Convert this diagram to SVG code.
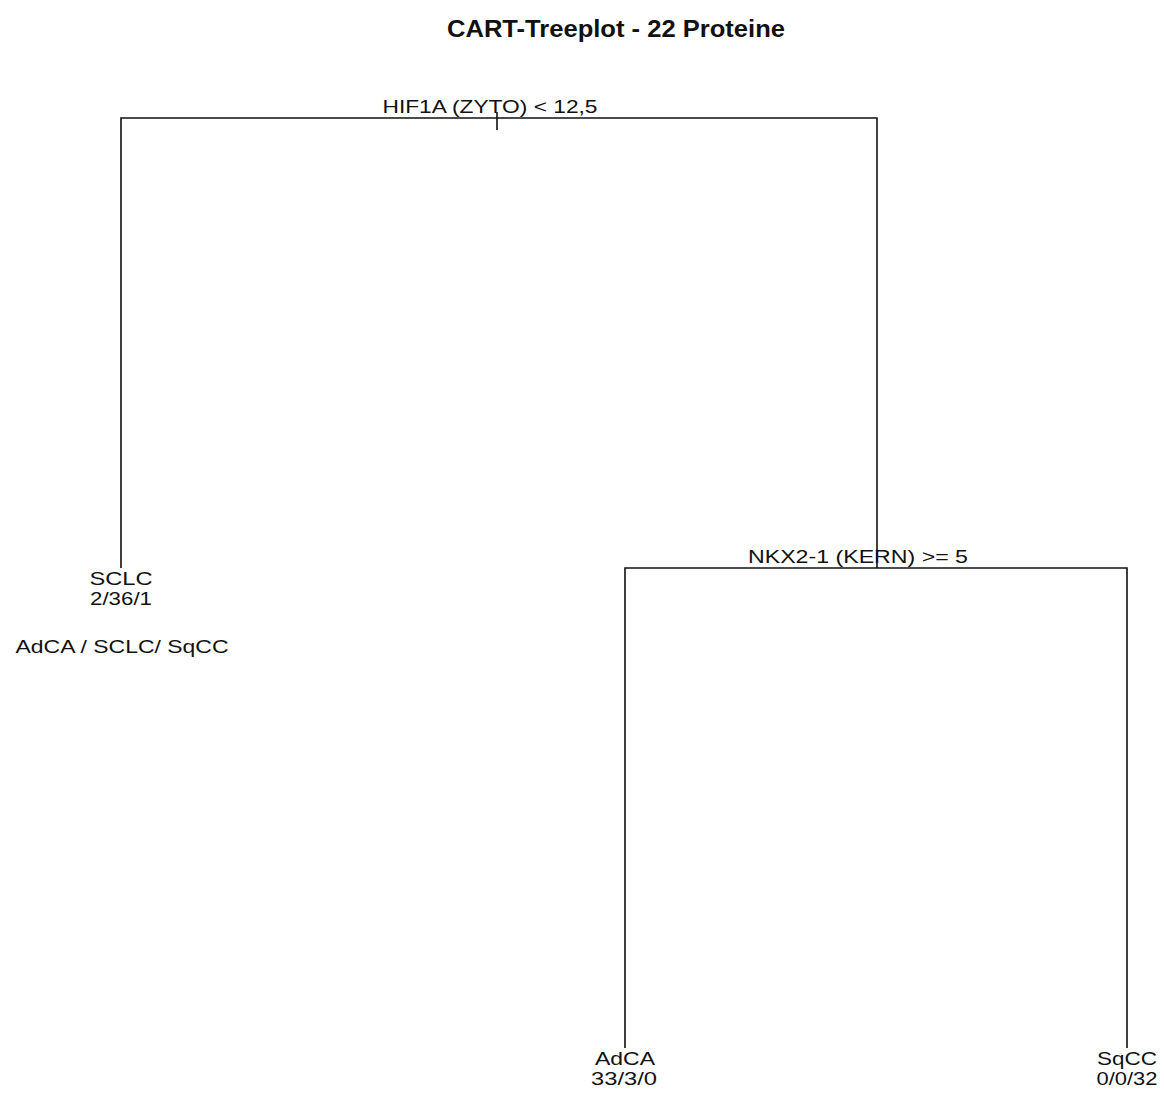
<svg xmlns="http://www.w3.org/2000/svg" width="1164" height="1094" viewBox="0 0 1164 1094">
<style>
.t{font-family:"Liberation Sans",Arial,sans-serif;font-size:19px;fill:#111;text-anchor:middle}
.title{font-family:"Liberation Sans Narrow","Liberation Sans",Arial,sans-serif;font-size:23px;font-weight:bold;fill:#111;text-anchor:middle}
.e{fill:none;stroke:#111;stroke-width:1.6}
</style>
<rect width="1164" height="1094" fill="#fff"/>
<text class="title" x="616" y="37" textLength="338" lengthAdjust="spacingAndGlyphs">CART-Treeplot - 22 Proteine</text>
<g id="connectors">
<path class="e" d="M121,568 V118 H877 V568"/>
<path class="e" d="M497,112 V130"/>
<path class="e" d="M625,1048 V568 H1127 V1048"/>
</g>
<g id="root">
<text class="t" x="490" y="113" textLength="215" lengthAdjust="spacingAndGlyphs">HIF1A (ZYTO) &lt; 12,5</text>
</g>
<g id="split2">
<text class="t" x="858" y="563" textLength="220" lengthAdjust="spacingAndGlyphs">NKX2-1 (KERN) &gt;= 5</text>
</g>
<g id="leaf-sclc">
<text class="t" x="121" y="585" textLength="63" lengthAdjust="spacingAndGlyphs">SCLC</text>
<text class="t" x="121" y="605" textLength="62" lengthAdjust="spacingAndGlyphs">2/36/1</text>
</g>
<g id="legend">
<text class="t" x="122" y="653" textLength="213" lengthAdjust="spacingAndGlyphs">AdCA / SCLC/ SqCC</text>
</g>
<g id="leaf-adca">
<text class="t" x="625" y="1065" textLength="60" lengthAdjust="spacingAndGlyphs">AdCA</text>
<text class="t" x="624" y="1085" textLength="66" lengthAdjust="spacingAndGlyphs">33/3/0</text>
</g>
<g id="leaf-sqcc">
<text class="t" x="1127" y="1065" textLength="60" lengthAdjust="spacingAndGlyphs">SqCC</text>
<text class="t" x="1127" y="1085" textLength="61" lengthAdjust="spacingAndGlyphs">0/0/32</text>
</g>
</svg>
